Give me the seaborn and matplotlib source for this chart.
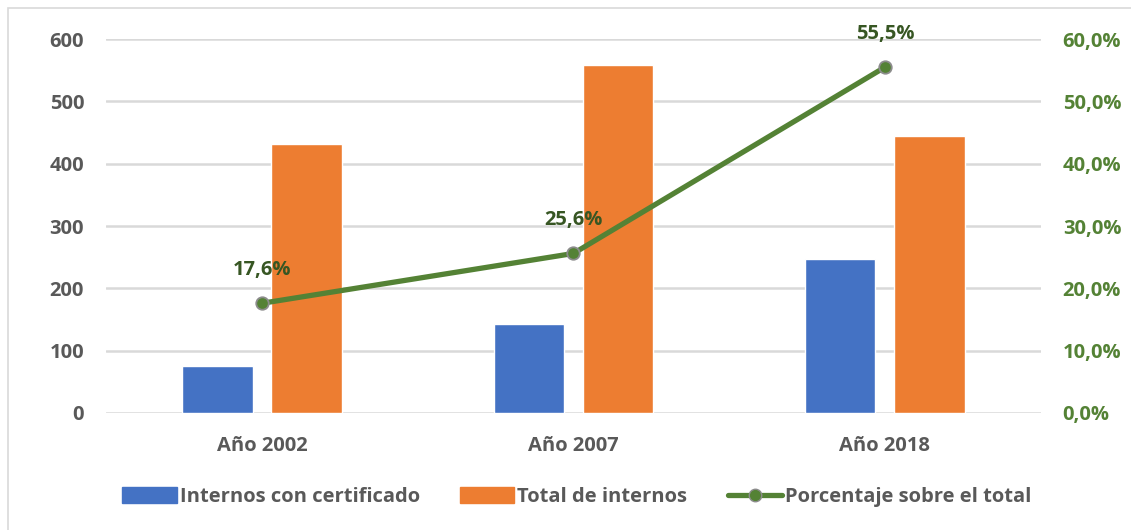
import pandas as pd
import matplotlib.pyplot as plt
import seaborn as sns
from matplotlib.patches import Rectangle, Patch
from matplotlib.lines import Line2D
from matplotlib.ticker import FuncFormatter

# Datos
years = ['Año 2002', 'Año 2007', 'Año 2018']
con_certificado = [76, 143, 247]
total_internos = [432, 559, 445]
porcentaje = [0.176, 0.256, 0.555]

serie_names = ['Internos con certificado', 'Total de internos', 'Porcentaje sobre el total']

df = pd.DataFrame({
    'anio': years * 2,
    'valor': con_certificado + total_internos,
    'serie': [serie_names[0]] * 3 + [serie_names[1]] * 3,
})

blue = '#4472C4'
orange = '#ED7D31'
green = '#548235'
dark_green = '#375623'
grey_txt = '#595959'
grid_col = '#D9D9D9'
fs = 14.5

sns.set_style('white')
plt.rcParams['font.family'] = ['Open Sans', 'DejaVu Sans']
plt.rcParams['font.weight'] = 'bold'

fig = plt.figure(figsize=(11.31, 5.30), dpi=100)
ax = fig.add_axes([0.094, 0.221, 0.826, 0.705])

# marco del gráfico
fig.patches.append(Rectangle((8 / 1131, -0.01), 1.0, 1 - 8 / 530 + 0.01,
                             transform=fig.transFigure, fill=False,
                             edgecolor=grid_col, linewidth=1.2, zorder=0))

sns.barplot(data=df, x='anio', y='valor', hue='serie', palette=[blue, orange],
            width=0.572, gap=0.21, ax=ax, legend=False, saturation=1)

ax.set_xlim(-0.5, 2.5)
ax.set_ylim(0, 600)
ax.set_yticks(range(0, 601, 100))
ax.grid(axis='y', color=grid_col, linewidth=1.8)
ax.set_axisbelow(True)
for s in ax.spines.values():
    s.set_visible(False)
ax.set_xlabel('')
ax.set_ylabel('')
ax.tick_params(axis='both', length=0, labelsize=fs, labelcolor=grey_txt)
ax.tick_params(axis='y', pad=16)
ax.tick_params(axis='x', pad=17)
for lbl in ax.get_xticklabels() + ax.get_yticklabels():
    lbl.set_fontweight('bold')

# eje secundario: porcentaje
ax2 = ax.twinx()
xs = list(range(len(years)))
ax2.plot(xs, porcentaje, color=green, linewidth=3.8, marker='o', markersize=9,
         markerfacecolor=green, markeredgecolor='#8C8C8C', markeredgewidth=1.3,
         solid_capstyle='round', zorder=5)
ax2.set_ylim(0, 0.6)
ax2.set_yticks([i / 10 for i in range(7)])
ax2.yaxis.set_major_formatter(FuncFormatter(lambda v, p: f'{v * 100:.1f}%'.replace('.', ',')))
ax2.tick_params(axis='y', length=0, labelsize=fs, labelcolor=green, pad=16)
for lbl in ax2.get_yticklabels():
    lbl.set_fontweight('bold')
for s in ax2.spines.values():
    s.set_visible(False)
ax2.grid(False)

for x, p in zip(xs, porcentaje):
    ax2.annotate(f'{p * 100:.1f}%'.replace('.', ','), (x, p), xytext=(0, 24),
                 textcoords='offset points', ha='center', va='center',
                 fontsize=fs, fontweight='bold', color=dark_green)

handles = [Patch(color=blue), Patch(color=orange),
           Line2D([], [], color=green, linewidth=3.8, marker='o', markersize=9,
                  markerfacecolor=green, markeredgecolor='#8C8C8C')]
leg = fig.legend(handles, serie_names, loc='center', bbox_to_anchor=(0.51, 0.062),
                 ncol=3, frameon=False, fontsize=fs, handlelength=2.7,
                 handleheight=0.8, handletextpad=0.15, columnspacing=2.0)
for t in leg.get_texts():
    t.set_color(grey_txt)
    t.set_fontweight('bold')

fig.savefig('out.png', dpi=100)
